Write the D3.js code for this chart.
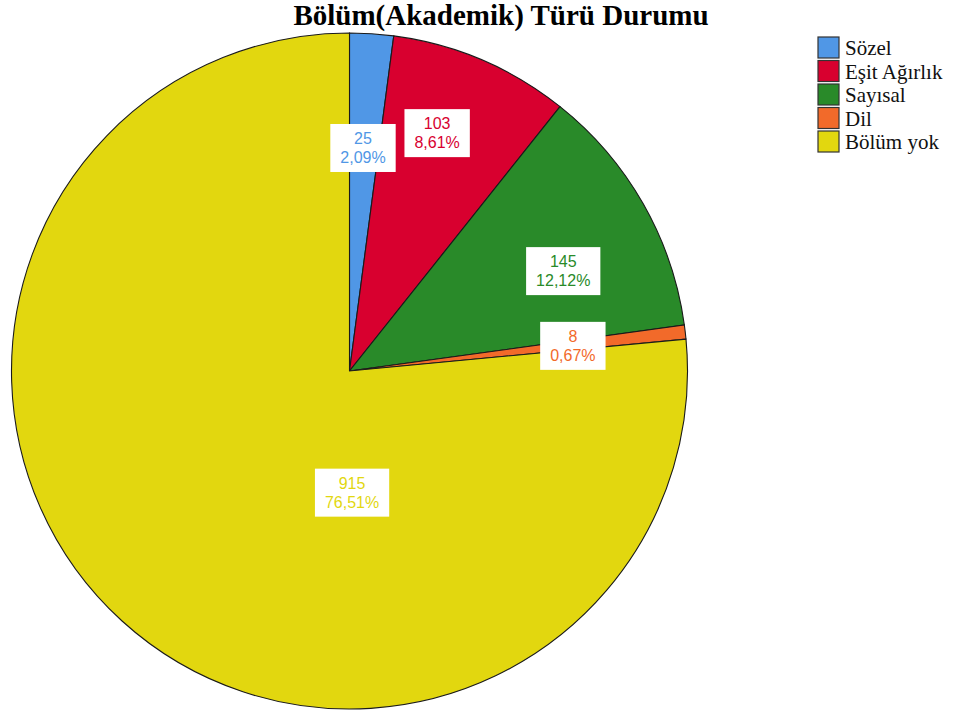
<!DOCTYPE html>
<html><head><meta charset="utf-8">
<script src="https://cdn.jsdelivr.net/npm/d3@7/dist/d3.min.js"></script>
<style>body{margin:0;background:#fff}</style>
</head><body>
<svg id="chart" width="955" height="715"></svg>
<script>
const categories = ["Sözel", "Eşit Ağırlık", "Sayısal", "Dil", "Bölüm yok"];
const counts = [25, 103, 145, 8, 915];
const percentLabels = ["2,09%", "8,61%", "12,12%", "0,67%", "76,51%"];
const colors = ["#5097e6", "#d8002f", "#298a29", "#f26a2a", "#e2d70f"];
const title = "Bölüm(Akademik) Türü Durumu";

const serif = "'Liberation Serif', 'Times New Roman', serif";
const sans = "'Liberation Sans', Arial, sans-serif";

const svg = d3.select("#chart");
const cx = 349.5, cy = 371, R = 338;

svg.append("text").attr("x", 501).attr("y", 25)
  .attr("text-anchor", "middle")
  .style("font-family", serif)
  .attr("font-weight", "bold").attr("font-size", 29)
  .text(title);

const data = categories.map((c, i) => ({cat: c, value: counts[i], pct: percentLabels[i], color: colors[i]}));
const pie = d3.pie().value(d => d.value).sort(null);
const arcs = pie(data);
const arc = d3.arc().innerRadius(0).outerRadius(R);

const g = svg.append("g").attr("transform", `translate(${cx},${cy})`);
g.selectAll("path").data(arcs).join("path")
  .attr("d", arc).attr("fill", d => d.data.color)
  .attr("stroke", "#1a1a1a").attr("stroke-width", 1.1);

// label layout: radius fraction and angle offset (deg) relative to slice bisector
const labelLayout = [
  {rf: 0.661, da: -0.3},
  {rf: 0.75, da: -2.8},
  {rf: 0.698, da: 4.6},
  {rf: 0.665, da: 0.2},
  {rf: 0.36, da: -43.5}
];
const fs = 16;
arcs.forEach((a, i) => {
  const mid = (a.startAngle + a.endAngle) / 2 + labelLayout[i].da * Math.PI / 180;
  const r = labelLayout[i].rf * R;
  const x = Math.sin(mid) * r, y = -Math.cos(mid) * r;
  const lg = g.append("g").attr("transform", `translate(${x},${y})`);
  const t = lg.append("text").attr("text-anchor", "middle")
    .style("font-family", sans)
    .attr("font-size", fs).attr("fill", a.data.color);
  t.append("tspan").attr("x", 0).attr("y", -9.5).attr("dy", "0.35em").text(a.data.value);
  t.append("tspan").attr("x", 0).attr("y", 9.5).attr("dy", "0.35em").text(a.data.pct);
  const bb = t.node().getBBox();
  const w = bb.width + 20, h = 48;
  lg.insert("rect", "text").attr("x", -w / 2).attr("y", -h / 2)
    .attr("width", w).attr("height", h).attr("fill", "#fff");
});

// legend
const lgY = d3.scaleBand().domain(categories).range([36, 36 + 23.5 * categories.length]);
const leg = svg.append("g");
categories.forEach((c, i) => {
  const y = lgY(c);
  leg.append("rect").attr("x", 818).attr("y", y + 1).attr("width", 21).attr("height", 21)
    .attr("fill", colors[i]).attr("stroke", "#333").attr("stroke-width", 1.2);
  leg.append("text").attr("x", 845).attr("y", y + 19)
    .style("font-family", serif)
    .attr("font-size", 21).attr("fill", "#111").text(c);
});
</script>
</body></html>
